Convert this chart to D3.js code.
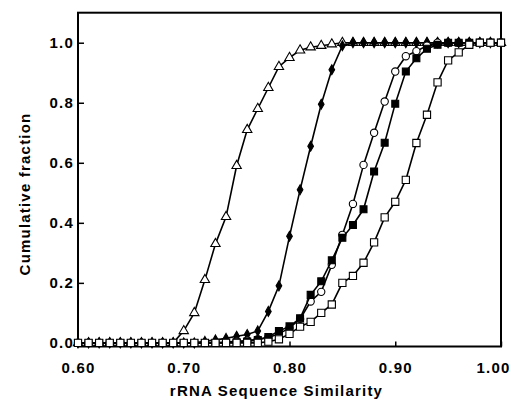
<!DOCTYPE html>
<html>
<head>
<meta charset="utf-8">
<script src="https://cdn.jsdelivr.net/npm/d3@7"></script>
<style>
    body { margin: 0; background: #fff; }
    svg { display: block; }
    text { font-family: "Liberation Sans", Arial, Helvetica, sans-serif; font-weight: bold; }
</style>
</head>
<body>
<div id="chart"></div>
<script>
// rRNA sequence similarity bins
var similarity = [0.60, 0.61, 0.62, 0.63, 0.64, 0.65, 0.66, 0.67, 0.68, 0.69,
                  0.70, 0.71, 0.72, 0.73, 0.74, 0.75, 0.76, 0.77, 0.78, 0.79,
                  0.80, 0.81, 0.82, 0.83, 0.84, 0.85, 0.86, 0.87, 0.88, 0.89,
                  0.90, 0.91, 0.92, 0.93, 0.94, 0.95, 0.96, 0.97, 0.98, 0.99, 1.00];

var openTriangle = [0, 0, 0, 0, 0, 0, 0, 0, 0, 0,
                    0.04, 0.10, 0.21, 0.33, 0.42, 0.59, 0.71, 0.78, 0.85, 0.92,
                    0.95, 0.975, 0.985, 0.99, 0.995, 1, 1, 1, 1, 1,
                    1, 1, 1, 1, 1, 1, 1, 1, 1, 1, 1];

var filledDiamond = [0, 0, 0, 0, 0, 0, 0, 0, 0, 0,
                     0, 0, 0.005, 0.01, 0.015, 0.022, 0.028, 0.04, 0.105, 0.19,
                     0.355, 0.51, 0.655, 0.795, 0.91, 0.99, 1, 1, 1, 1,
                     1, 1, 1, 1, 1, 1, 1, 1, 1, 1, 1];

var openCircle = [0, 0, 0, 0, 0, 0, 0, 0, 0, 0,
                  0, 0, 0, 0, 0.003, 0.005, 0.008, 0.012, 0.018, 0.03,
                  0.05, 0.08, 0.138, 0.17, 0.26, 0.36, 0.463, 0.593, 0.70, 0.804,
                  0.904, 0.955, 0.972, 0.99, 1, 1, 1, 1, 1, 1, 1];

var filledSquare = [0, 0, 0, 0, 0, 0, 0, 0, 0, 0,
                    0, 0, 0, 0, 0, 0.002, 0.005, 0.01, 0.02, 0.04,
                    0.055, 0.082, 0.16, 0.205, 0.275, 0.35, 0.393, 0.445, 0.571, 0.667,
                    0.797, 0.904, 0.948, 0.98, 0.993, 1, 1, 1, 1, 1, 1];

var openSquare = [0, 0, 0, 0, 0, 0, 0, 0, 0, 0,
                  0, 0, 0, 0, 0, 0, 0, 0, 0.004, 0.012,
                  0.03, 0.054, 0.07, 0.10, 0.128, 0.20, 0.223, 0.267, 0.335, 0.418,
                  0.47, 0.543, 0.666, 0.76, 0.868, 0.941, 0.968, 0.993, 1, 1, 1];

var xTicks = [0.60, 0.70, 0.80, 0.90, 1.00];
var yTicks = [0.0, 0.2, 0.4, 0.6, 0.8, 1.0];

// drawing order matters: later series sit on top
var series = [
    { values: openTriangle, symbol: d3.symbolTriangle, size: 38, fill: '#fff' },
    { values: filledDiamond, symbol: d3.symbolDiamond, size: 28, fill: '#000' },
    { values: openCircle, symbol: d3.symbolCircle, size: 42, fill: '#fff' },
    { values: filledSquare, symbol: d3.symbolSquare, size: 48, fill: '#000' },
    { values: openSquare, symbol: d3.symbolSquare, size: 52, fill: '#fff' }
];

var svg = d3.select('#chart')
    .append('svg')
    .attr('width', 511)
    .attr('height', 404);

var xScale = d3.scaleLinear()
    .domain([0.6, 1.0])
    .range([78, 501]);

var yScale = d3.scaleLinear()
    .domain([-0.012, 1.1])
    .range([346.5, 12.7]);

var xAxis = svg.append('g')
    .attr('class', 'x-axis')
    .attr('transform', 'translate(0, ' + 346.5 + ')')
    .call(d3.axisBottom(xScale)
        .tickValues(xTicks)
        .tickFormat(d3.format('.2f'))
        .tickSize(-5)
        .tickSizeOuter(0)
        .tickPadding(16));

var yAxis = svg.append('g')
    .attr('class', 'y-axis')
    .attr('transform', 'translate(' + 78 + ', 0)')
    .call(d3.axisLeft(yScale)
        .tickValues(yTicks)
        .tickFormat(d3.format('.1f'))
        .tickSize(-6)
        .tickSizeOuter(0)
        .tickPadding(4));

svg.selectAll('.domain').remove();
svg.selectAll('.tick line')
    .attr('stroke', '#000')
    .attr('stroke-width', 1.5);
svg.selectAll('.tick text')
    .attr('font-size', '15px')
    .attr('fill', '#000')
    .style('letter-spacing', '1.2px');

// last x label runs to the page edge, keep it inside
xAxis.selectAll('.tick text')
    .filter((d) => d === 1.00)
    .attr('text-anchor', 'end')
    .attr('x', 9);

// frame round the plot
svg.append('rect')
    .attr('x', xScale(0.6))
    .attr('y', yScale(1.1))
    .attr('width', xScale(1.0) - xScale(0.6))
    .attr('height', yScale(-0.012) - yScale(1.1))
    .attr('fill', 'none')
    .attr('stroke', '#000')
    .attr('stroke-width', 2);

var line = d3.line()
    .x((d, i) => xScale(similarity[i]))
    .y((d) => yScale(d));

series.forEach(function(s) {
    var g = svg.append('g');

    g.append('path')
        .datum(s.values)
        .attr('d', line)
        .attr('fill', 'none')
        .attr('stroke', '#000')
        .attr('stroke-width', 1.6);

    g.selectAll('path.mark')
        .data(s.values)
        .enter()
        .append('path')
        .attr('class', 'mark')
        .attr('d', d3.symbol().type(s.symbol).size(s.size))
        .attr('transform', (d, i) => 'translate(' + xScale(similarity[i]) + ', ' + yScale(d) + ')')
        .attr('fill', s.fill)
        .attr('stroke', '#000')
        .attr('stroke-width', 1.1);
});

svg.append('text')
    .attr('x', (xScale(0.6) + xScale(1.0)) / 2 - 13)
    .attr('y', 396)
    .attr('font-size', '15px')
    .attr('text-anchor', 'middle')
    .style('letter-spacing', '1.2px')
    .text('rRNA Sequence Similarity');

svg.append('text')
    .attr('x', -194)
    .attr('y', 30)
    .attr('font-size', '15px')
    .attr('text-anchor', 'middle')
    .attr('transform', 'rotate(-90)')
    .style('letter-spacing', '1.2px')
    .text('Cumulative fraction');
</script>
</body>
</html>
